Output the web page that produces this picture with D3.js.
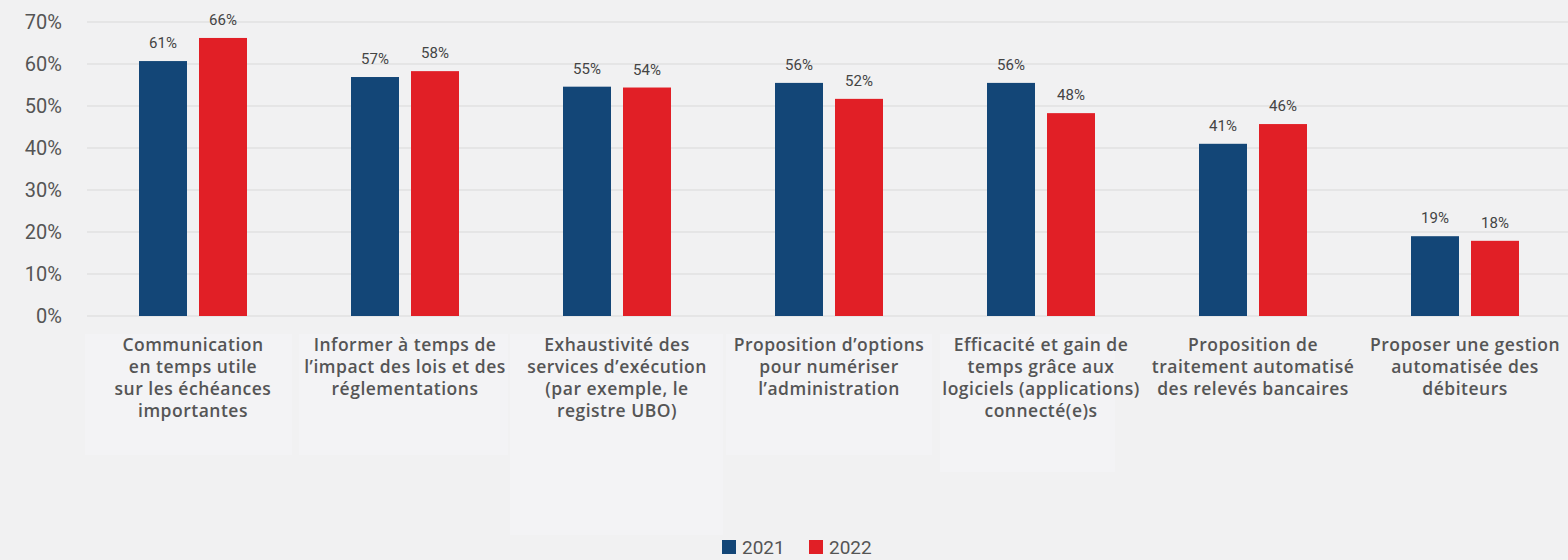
<!DOCTYPE html>
<html>
<head>
<meta charset="utf-8">
<script src="https://cdn.jsdelivr.net/npm/d3@7"></script>
<style>
  body { margin: 0; background: #f1f1f2; }
  svg { display: block; }
</style>
</head>
<body>
<div id="chart"></div>
<script>
const categories = [
  ["Communication", "en temps utile", "sur les échéances", "importantes"],
  ["Informer à temps de", "l’impact des lois et des", "réglementations"],
  ["Exhaustivité des", "services d’exécution", "(par exemple, le", "registre UBO)"],
  ["Proposition d’options", "pour numériser", "l’administration"],
  ["Efficacité et gain de", "temps grâce aux", "logiciels (applications)", "connecté(e)s"],
  ["Proposition de", "traitement automatisé", "des relevés bancaires"],
  ["Proposer une gestion", "automatisée des", "débiteurs"]
]
const years = ["2021", "2022"]
const values2021 = [60.7, 56.9, 54.6, 55.5, 55.5, 41.0, 19.0]
const values2022 = [66.2, 58.3, 54.4, 51.7, 48.3, 45.7, 17.9]
const yTicks = [0, 10, 20, 30, 40, 50, 60, 70]

const colors = {"2021": "#134677", "2022": "#e11f26"}

const width = 1568, height = 560
const margin = {top: 22, right: 0, bottom: 244, left: 87}

const svg = d3.select("#chart")
  .append("svg")
    .attr("width", width)
    .attr("height", height)

const data = categories.map((c, i) => ({
  key: i,
  lines: c,
  vals: {"2021": values2021[i], "2022": values2022[i]}
}))

const x0 = d3.scaleBand()
  .domain(data.map(d => d.key))
  .range([margin.left, margin.left + 212 * 7])

const x1 = d3.scaleBand()
  .domain(years)
  .range([52, 160])
  .paddingInner(0.2)

const y = d3.scaleLinear()
  .domain([0, 70])
  .range([height - margin.bottom, margin.top])

// faint label panels behind category names
const panels = [[85, 292, 334, 455], [299, 508, 334, 455], [510, 723, 334, 535], [726, 932, 334, 455], [940, 1115, 334, 472]]
svg.selectAll("rect.panel")
  .data(panels)
  .join("rect")
    .attr("class", "panel")
    .attr("x", d => d[0])
    .attr("width", d => d[1] - d[0])
    .attr("y", d => d[2])
    .attr("height", d => d[3] - d[2])
    .attr("fill", "#f3f3f5")

// grid + y labels
svg.append("g")
  .selectAll("line")
  .data(yTicks)
  .join("line")
    .attr("x1", margin.left)
    .attr("x2", width)
    .attr("y1", d => y(d))
    .attr("y2", d => y(d))
    .attr("stroke", "#d9d9d9")
    .attr("stroke-width", 1)

svg.append("g")
  .selectAll("text")
  .data(yTicks)
  .join("text")
    .attr("x", 62)
    .attr("y", d => y(d))
    .attr("dy", "0.35em")
    .attr("text-anchor", "end")
    .attr("font-family", "Roboto, sans-serif")
    .attr("font-size", 20)
    .attr("fill", "#555")
    .text(d => d + "%")

// bars
const groups = svg.append("g")
  .selectAll("g")
  .data(data)
  .join("g")
    .attr("transform", d => `translate(${x0(d.key)},0)`)

groups.selectAll("rect")
  .data(d => years.map(yr => ({yr, v: d.vals[yr]})))
  .join("rect")
    .attr("x", d => x1(d.yr))
    .attr("width", x1.bandwidth())
    .attr("y", d => y(d.v))
    .attr("height", d => y(0) - y(d.v))
    .attr("fill", d => colors[d.yr])

groups.selectAll("text.val")
  .data(d => years.map(yr => ({yr, v: d.vals[yr]})))
  .join("text")
    .attr("class", "val")
    .attr("x", d => x1(d.yr) + x1.bandwidth() / 2)
    .attr("y", d => y(d.v) - 13)
    .attr("text-anchor", "middle")
    .attr("font-family", "Roboto, sans-serif")
    .attr("font-size", 15)
    .attr("fill", "#444")
    .text(d => Math.round(d.v) + "%")

// category labels
groups.append("text")
  .attr("text-anchor", "middle")
  .attr("font-family", "'Open Sans', sans-serif")
  .attr("font-weight", 600)
  .attr("font-size", 17.5)
  .attr("letter-spacing", 0.5)
  .attr("fill", "#555")
  .selectAll("tspan")
  .data(d => d.lines)
  .join("tspan")
    .attr("x", x0.bandwidth() / 2)
    .attr("y", (d, i) => 351 + i * 22)
    .text(d => d)

// legend
const legend = svg.append("g")
  .selectAll("g")
  .data(years)
  .join("g")
    .attr("transform", (d, i) => `translate(${722 + i * 87},540)`)
legend.append("rect")
  .attr("width", 14)
  .attr("height", 14)
  .attr("fill", d => colors[d])
legend.append("text")
  .attr("x", 20)
  .attr("y", 14)
  .attr("font-family", "Roboto, sans-serif")
  .attr("font-size", 19)
  .attr("fill", "#555")
  .text(d => d)
</script>
</body>
</html>
